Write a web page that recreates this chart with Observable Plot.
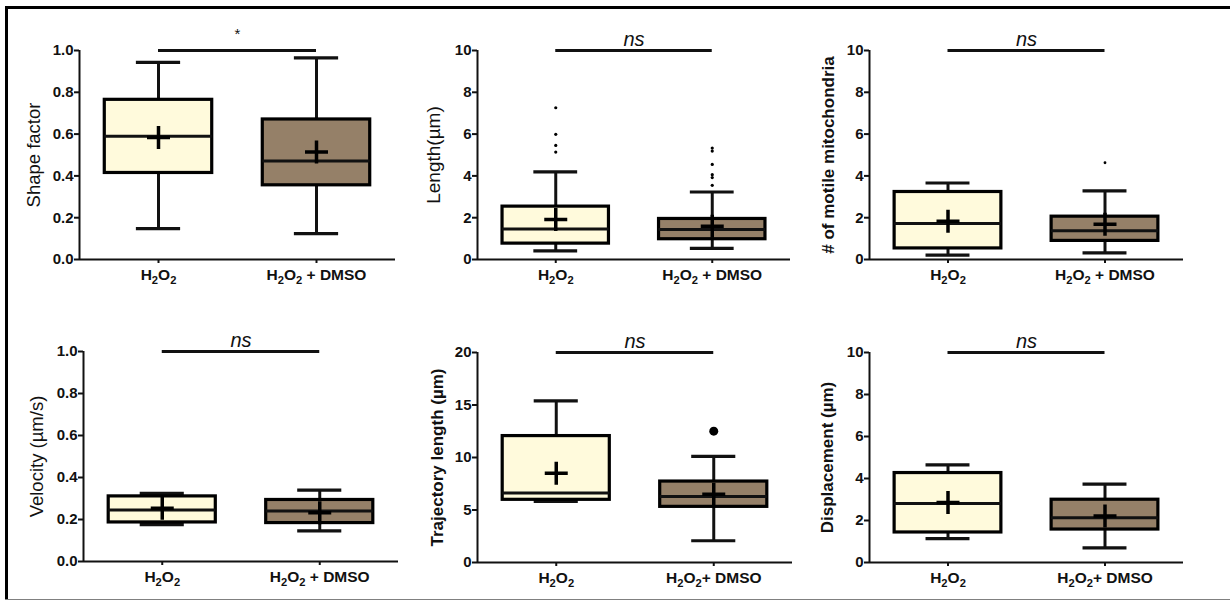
<!DOCTYPE html>
<html><head><meta charset="utf-8">
<script src="https://cdn.jsdelivr.net/npm/d3@7"></script>
<script src="https://cdn.jsdelivr.net/npm/@observablehq/plot@0.6"></script>
<style>
html,body{margin:0;padding:0;background:#fff;}
#fig{position:relative;width:1230px;height:602px;overflow:hidden;font-family:"Liberation Sans",Arial,sans-serif;background:#fff;}
.panel{position:absolute;}
.line{position:absolute;}
.panel g[aria-label="y-axis tick label"]{font-size:15px;}
.panel g[aria-label="x-axis tick label"]{font-size:15.5px;}
</style></head><body>
<div id="fig">
  <div class="line" style="left:5px;top:6px;width:1225px;height:3px;background:#000"></div>
  <div class="line" style="left:5px;top:6px;width:3px;height:594px;background:#000"></div>
  <div class="line" style="left:5px;top:599px;width:1225px;height:1px;background:#808080"></div>
</div>
<script>
// ---- data ----
const groups = ["H\u2082O\u2082", "H\u2082O\u2082 + DMSO"];
const groupsNoSpace = ["H\u2082O\u2082", "H\u2082O\u2082+ DMSO"];
const yTitles = ["Shape factor", "Length(\u00b5m)", "# of motile mitochondria", "Velocity (\u00b5m/s)", "Trajectory length (\u00b5m)", "Displacement (\u00b5m)"];
const significance = ["*", "ns", "ns", "ns", "ns", "ns"];
const yMax = [1, 10, 10, 1, 20, 10];
const yTicks = [
  [0, 0.2, 0.4, 0.6, 0.8, 1.0],
  [0, 2, 4, 6, 8, 10],
  [0, 2, 4, 6, 8, 10],
  [0, 0.2, 0.4, 0.6, 0.8, 1.0],
  [0, 5, 10, 15, 20],
  [0, 2, 4, 6, 8, 10]
];
// per panel: [H2O2, H2O2 + DMSO]
const whiskerLow  = [[0.148, 0.124], [0.41, 0.53], [0.21, 0.32], [0.176, 0.146], [5.81, 2.07], [1.14, 0.70]];
const quartile1   = [[0.414, 0.355], [0.76, 0.97], [0.53, 0.89], [0.186, 0.183], [5.97, 5.30], [1.43, 1.57]];
const median      = [[0.590, 0.471], [1.46, 1.43], [1.72, 1.37], [0.245, 0.240], [6.61, 6.29], [2.81, 2.13]];
const quartile3   = [[0.764, 0.670], [2.53, 1.94], [3.23, 2.05], [0.310, 0.293], [12.04, 7.71], [4.26, 2.99]];
const whiskerHigh = [[0.943, 0.965], [4.19, 3.23], [3.66, 3.28], [0.324, 0.340], [15.4, 10.1], [4.65, 3.73]];
const mean        = [[0.584, 0.514], [1.91, 1.59], [1.83, 1.69], [0.253, 0.232], [8.51, 6.51], [2.86, 2.22]];
const outliers    = [
  [[], []],
  [[7.26, 5.99, 5.46, 5.14], [5.33, 5.19, 4.55, 4.06, 3.92, 3.55]],
  [[], [4.63]],
  [[], []],
  [[], [12.51]],
  [[], []]
];

// ---- styles / layout ----
const fills = ["#FFFADC", "#958068"];
const outlierR = [0, 1.6, 1.4, 0, 4.5, 0];
const layout = [
  {left: 0,   top: 0,   width: 400, height: 300, ml: 79, mr: 5,  mt: 50, mb: 41, dx: -45, fs: 18.5, fw: "normal"},
  {left: 400, top: 0,   width: 400, height: 300, ml: 77, mr: 10, mt: 50, mb: 41, dx: -44, fs: 19,   fw: "normal"},
  {left: 810, top: 0,   width: 420, height: 300, ml: 59, mr: 47, mt: 50, mb: 41, dx: -41, fs: 17,   fw: "bold"},
  {left: 0,   top: 300, width: 410, height: 300, ml: 83, mr: 12, mt: 51, mb: 39, dx: -46, fs: 18.5, fw: "normal"},
  {left: 400, top: 300, width: 400, height: 300, ml: 77, mr: 8,  mt: 52, mb: 38, dx: -40, fs: 17,   fw: "bold"},
  {left: 810, top: 300, width: 420, height: 300, ml: 59, mr: 47, mt: 52, mb: 38, dx: -42, fs: 17,   fw: "bold"}
];
const boxHalf = 0.34, capHalf = 0.14;
const plusSymbol = {
  draw(ctx, size) {
    const r = Math.sqrt(size / Math.PI);
    ctx.moveTo(-r, 0); ctx.lineTo(r, 0);
    ctx.moveTo(0, -r); ctx.lineTo(0, r);
  }
};

// turn "₂" characters into real subscript tspans
function subscriptify(textEl) {
  const s = textEl.textContent;
  const segs = [];
  for (const ch of s) {
    const sub = ch === "\u2082";
    const c = sub ? "2" : ch;
    if (segs.length && segs[segs.length - 1].sub === sub) segs[segs.length - 1].t += c;
    else segs.push({t: c, sub});
  }
  textEl.textContent = "";
  const NS = "http://www.w3.org/2000/svg";
  let prevSub = false;
  for (const seg of segs) {
    const ts = document.createElementNS(NS, "tspan");
    ts.textContent = seg.t;
    if (seg.sub) { ts.setAttribute("font-size", "72%"); ts.setAttribute("dy", "4"); }
    else if (prevSub) ts.setAttribute("dy", "-4");
    prevSub = seg.sub;
    textEl.appendChild(ts);
  }
}

const fig = document.getElementById("fig");
layout.forEach((L, p) => {
  const labels = p >= 4 ? groupsNoSpace : groups;
  const rows = [0, 1].map(g => ({
    c: g + 1, g,
    low: whiskerLow[p][g], q1: quartile1[p][g], med: median[p][g],
    q3: quartile3[p][g], high: whiskerHigh[p][g], mean: mean[p][g]
  }));
  const outs = [0, 1].flatMap(g => outliers[p][g].map(v => ({c: g + 1, v})));
  const fmt = yMax[p] === 1 ? d3.format(".1f") : d3.format("d");
  const plot = Plot.plot({
    width: L.width, height: L.height,
    marginLeft: L.ml, marginRight: L.mr, marginTop: L.mt, marginBottom: L.mb,
    style: {fontFamily: "'Liberation Sans', Arial, sans-serif", fontSize: "14px", fontWeight: "bold",
      color: "#111", background: "transparent", overflow: "visible"},
    x: {type: "linear", domain: [0.5, 2.5], axis: null},
    y: {domain: [0, yMax[p]], axis: null},
    marks: [
      Plot.axisY({ticks: yTicks[p], tickFormat: fmt, tickSize: 5, tickPadding: 1, strokeWidth: 2, label: null}),
      Plot.axisX({ticks: [1, 2], tickFormat: i => labels[i - 1], tickSize: 4, tickPadding: 5, strokeWidth: 2, label: null}),
      Plot.ruleX([0.5], {y1: 0, y2: yMax[p], strokeWidth: 2}),
      Plot.ruleY([0], {x1: 0.5, x2: 2.5, strokeWidth: 2}),
      // significance bar
      Plot.ruleY([yMax[p]], {x1: 1, x2: 2, strokeWidth: 3}),
      Plot.text([significance[p]], {x: 1.5, y: yMax[p], text: d => d, lineAnchor: "bottom",
        dy: p === 0 ? -12 : -5, fontSize: p === 0 ? 15 : 20, fontWeight: "normal",
        fontStyle: p === 0 ? "normal" : "italic", fill: "#111"}),
      // y title
      Plot.text([yTitles[p]], {frameAnchor: "left", textAnchor: "middle", dx: L.dx, rotate: -90, text: d => d,
        fontSize: L.fs, fontWeight: L.fw, fill: "#111"}),
      // whiskers
      Plot.ruleX(rows, {x: "c", y1: "q3", y2: "high", strokeWidth: 3}),
      Plot.ruleX(rows, {x: "c", y1: "low", y2: "q1", strokeWidth: 3}),
      Plot.ruleY(rows, {y: "high", x1: d => d.c - capHalf, x2: d => d.c + capHalf, strokeWidth: 3.2}),
      Plot.ruleY(rows, {y: "low", x1: d => d.c - capHalf, x2: d => d.c + capHalf, strokeWidth: 3.2}),
      // boxes
      Plot.rect(rows, {x1: d => d.c - boxHalf, x2: d => d.c + boxHalf, y1: "q1", y2: "q3",
        fill: d => fills[d.g], stroke: "black", strokeWidth: 3.2}),
      Plot.ruleY(rows, {y: "med", x1: d => d.c - boxHalf, x2: d => d.c + boxHalf, strokeWidth: 3}),
      // means
      Plot.dot(rows, {x: "c", y: "mean", symbol: plusSymbol, r: 11.5, stroke: "black", strokeWidth: 3.5, fill: "none"}),
      // outliers
      Plot.dot(outs, {x: "c", y: "v", r: outlierR[p], fill: "black", stroke: "none"})
    ]
  });
  plot.querySelectorAll('g[aria-label="x-axis tick label"] text').forEach(subscriptify);
  plot.classList.add("panel");
  plot.style.left = L.left + "px";
  plot.style.top = L.top + "px";
  fig.appendChild(plot);
});
</script>
</body></html>
